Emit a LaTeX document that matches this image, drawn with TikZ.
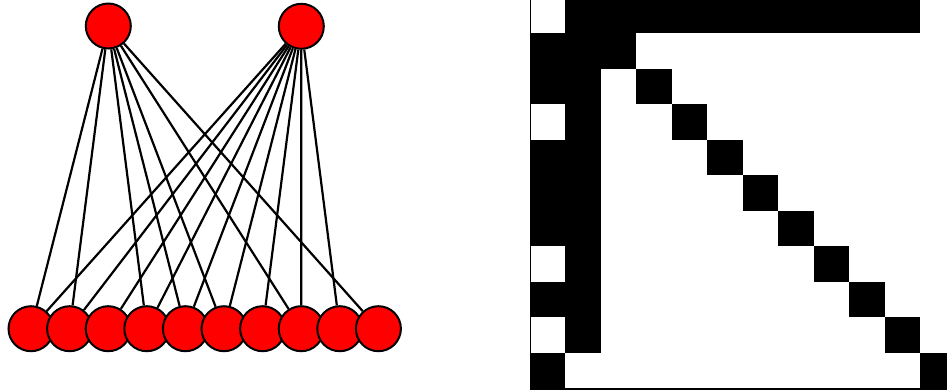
\documentclass[tikz,border=0pt]{standalone}
\usetikzlibrary{backgrounds}
\pgfdeclarelayer{edges}
\pgfsetlayers{edges,main}
\tikzset{
  vtx/.style={circle,draw=black,fill=red,line width=2pt,minimum size=45pt,inner sep=0pt},
  edg/.style={draw=black,line width=2.2pt},
  cell/.style={fill=black},
  axisline/.style={draw=black,line width=1.8pt}
}
\begin{document}
\begin{tikzpicture}[x=1pt,y=-1pt]
\useasboundingbox (0,0) rectangle (947,391);
% bottom nodes
\foreach \i in {0,...,9}{
  \node[vtx] (b\i) at ({31+38.6*\i},328.7) {};
}
% top nodes
\node[vtx] (t0) at (108.3,26) {};
\node[vtx] (t1) at (301.3,26.3) {};
% edges beneath nodes
\begin{pgfonlayer}{edges}
\foreach \j in {0,1,3,4,5,7,9}{
  \draw[edg] (t0) -- (b\j);
}
\foreach \j in {0,...,8}{
  \draw[edg] (t1) -- (b\j);
}
\end{pgfonlayer}
% matrix
\def\mx{530}
\def\cw{35.48}
\def\my{-2.2}
\def\ch{35.5}
\foreach \r/\c in {0/1,0/2,0/3,0/4,0/5,0/6,0/7,0/8,0/9,0/10,
  1/0,1/1,1/2,
  2/0,2/1,2/3,
  3/1,3/4,
  4/0,4/1,4/5,
  5/0,5/1,5/6,
  6/0,6/1,6/7,
  7/1,7/8,
  8/0,8/1,8/9,
  9/1,9/10,
  10/0,10/11}{
  \fill[cell] ({\mx+\cw*\c},{\my+\ch*\r}) rectangle ({\mx+\cw*(\c+1)},{\my+\ch*(\r+1)});
}
% axis lines
\draw[axisline] (530.4,0) -- (530.4,389.2) -- (947,389.2);
\end{tikzpicture}
\end{document}
